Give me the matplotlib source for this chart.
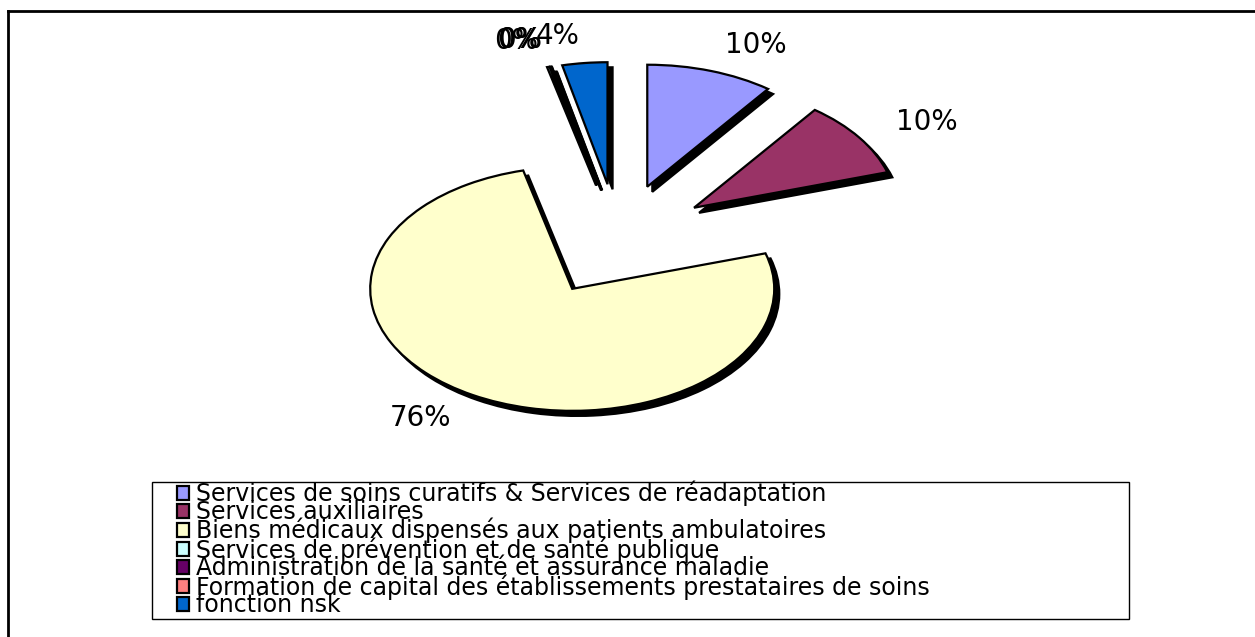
import matplotlib.pyplot as plt
from matplotlib.lines import Line2D
from matplotlib.patches import Rectangle

# part des dépenses par fonction (en %)
categories = [
  "Services de soins curatifs & Services de réadaptation",
  "Services auxiliaires",
  "Biens médicaux dispensés aux patients ambulatoires",
  "Services de prévention et de santé publique",
  "Administration de la santé et assurance maladie",
  "Formation de capital des établissements prestataires de soins",
  "fonction nsk",
]
values = [10.2, 10.1, 75.8, 0.2, 0.1, 0.0, 3.6]
pct_labels = ["10%", "10%", "76%", "0%", "0%", "0%", "4%"]
colors = ["#9999FF", "#993366", "#FFFFCC", "#CCFFFF", "#660066", "#FF8080", "#0066CC"]

W, H = 1255, 637
fig = plt.figure(figsize=(W / 100, H / 100), dpi=100)

# axes placed so the pie centre sits at (618, 240) px, rx=202, ry=122
cx, cy, rx, ry = 618, 240, 202, 122
a, b = 2.0, 1.8
aw, ah = 2 * a * rx, 2 * b * ry
ax = fig.add_axes([(cx - aw / 2) / W, (H - cy - ah / 2) / H, aw / W, ah / H])

wedges, texts = ax.pie(
  values, labels=pct_labels, colors=colors, startangle=90, counterclock=False,
  explode=[0.46] * len(values), labeldistance=1.22, normalize=True,
  wedgeprops=dict(edgecolor="black", linewidth=1.6),
  shadow=dict(ox=0.018, oy=-0.03, facecolor="black", edgecolor="black", alpha=1),
  textprops=dict(fontsize=20, color="black"),
)
ax.set_aspect("auto")
ax.set_xlim(-a, a)
ax.set_ylim(-b, b)
ax.axis("off")

# cadre du graphique (haut et gauche)
fig.add_artist(Line2D([8 / W, 1], [1 - 11 / H] * 2, transform=fig.transFigure, color="black", lw=2))
fig.add_artist(Line2D([8 / W] * 2, [0, 1 - 11 / H], transform=fig.transFigure, color="black", lw=2))

# légende
fig.add_artist(Rectangle((152 / W, 1 - 619 / H), (1129 - 152) / W, (619 - 482) / H,
                         transform=fig.transFigure, fill=False, edgecolor="black", lw=1))
fig.legend(wedges, categories, loc="upper left", bbox_to_anchor=(177 / W, 1 - 481 / H),
           bbox_transform=fig.transFigure, frameon=False, borderpad=0, borderaxespad=0,
           fontsize=17, labelspacing=-0.265, handlelength=0.52, handleheight=0.52,
           handletextpad=0.3)

plt.savefig("out.png", dpi=100)
